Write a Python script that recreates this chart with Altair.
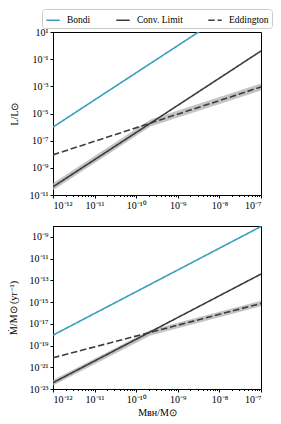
import altair as alt
import pandas as pd

# ---- data ----
series = ["Bondi", "Conv. Limit", "Eddington"]
colors = ["#3a9fbf", "#3c3c3c", "#3c3c3c"]
dashes = [[1, 0], [1, 0], [6.5, 2.8]]

mass = [1e-12, 1e-7]
mass_band = [1e-12, 2.2e-10, 1e-7]

# top panel: luminosity
L_bondi = [1e-6, 1e4]
L_conv = [4e-11, 4e-1]
L_edd = [9e-9, 9e-4]
L_band_lo = [2.2e-11, 1.1e-6, 5.0e-4]
L_band_hi = [7.2e-11, 3.6e-6, 1.6e-3]

# bottom panel: accretion rate
M_bondi = [9e-19, 9e-9]
M_conv = [3.8e-23, 3.8e-13]
M_edd = [7.5e-21, 7.5e-16]
M_band_lo = [2.1e-23, 0.85e-18, 4.2e-16]
M_band_hi = [6.8e-23, 2.7e-18, 1.35e-15]

x_exps = [-12, -11, -10, -9, -8, -7]
x_minor = [m * 10.0 ** e for e in range(-12, -7) for m in range(2, 10)]
yL_exps = [-11, -9, -7, -5, -3, -1, 1]
yM_exps = [-23, -21, -19, -17, -15, -13, -11, -9]

SUP = str.maketrans("-0123456789", "⁻⁰¹²³⁴⁵⁶⁷⁸⁹")
FONT = "Liberation Serif"


def lab(e):
    return "10" + str(e).translate(SUP)


def label_expr(exps):
    lo = min(exps)
    arr = ["" for _ in range(max(exps) - lo + 1)]
    for e in exps:
        arr[e - lo] = lab(e)
    items = ",".join("'" + s + "'" for s in arr)
    return f"[{items}][round(log(datum.value)/LN10)-({lo})]"


def lines_df(vals):
    rows = []
    for s, v in zip(series, vals):
        for m, y in zip(mass, v):
            rows.append({"series": s, "mass": m, "val": y})
    return pd.DataFrame(rows)


def band_df(lo, hi):
    return pd.DataFrame({"mass": mass_band, "lo": lo, "hi": hi})


def panel(ldf, bdf, exps, ydom, ytitle, xtitle, show_legend):
    xscale = alt.Scale(type="log", domain=[1e-12, 1e-7], nice=False)
    yscale = alt.Scale(type="log", domain=ydom, nice=False)
    xaxis = alt.Axis(values=[10.0 ** e for e in x_exps], labelExpr=label_expr(x_exps),
                     title=xtitle, grid=False, tickSize=3, orient="bottom")
    yaxis = alt.Axis(values=[10.0 ** e for e in exps], labelExpr=label_expr(exps),
                     title=ytitle, grid=False, tickSize=3, titlePadding=10)
    band = alt.Chart(bdf).mark_area(color="#b0b0b0", opacity=0.75, clip=True).encode(
        x=alt.X("mass:Q", scale=xscale, axis=xaxis),
        y=alt.Y("lo:Q", scale=yscale, axis=yaxis),
        y2="hi:Q",
    )
    if show_legend:
        leg = alt.Legend(title=None, orient="none", legendX=-11, legendY=-23,
                         direction="horizontal", symbolType="stroke", symbolSize=180,
                         symbolStrokeWidth=1.6, labelFont=FONT, labelFontSize=9.5,
                         labelColor="black", columnPadding=22, padding=3,
                         strokeColor="#cccccc", cornerRadius=3, fillColor="white",
                         labelOffset=6, labelLimit=200)
    else:
        leg = None
    lines = alt.Chart(ldf).mark_line(clip=True, strokeWidth=1.6).encode(
        x=alt.X("mass:Q", scale=xscale, axis=None),
        y=alt.Y("val:Q", scale=yscale),
        color=alt.Color("series:N", scale=alt.Scale(domain=series, range=colors), legend=leg),
        strokeDash=alt.StrokeDash("series:N", scale=alt.Scale(domain=series, range=dashes), legend=leg),
    )
    minor = alt.Chart(pd.DataFrame({"mass": [1e-12]})).mark_point(opacity=0).encode(
        x=alt.X("mass:Q", scale=xscale,
                axis=alt.Axis(values=x_minor, labels=False, domain=False, tickSize=1.5,
                              grid=False, title=None, orient="bottom")),
    )
    return alt.layer(band, lines, minor).resolve_axis(x="independent").properties(width=208, height=163)


top = panel(lines_df([L_bondi, L_conv, L_edd]), band_df(L_band_lo, L_band_hi),
            yL_exps, [1e-11, 10], "L/L⊙", None, True)
bottom = panel(lines_df([M_bondi, M_conv, M_edd]), band_df(M_band_lo, M_band_hi),
               yM_exps, [1e-23, 1e-8], "Ṁ/M⊙ (yr⁻¹)", "Mʙʜ/M⊙", False)

chart = alt.vconcat(top, bottom, spacing=14).resolve_legend(
    color="independent", strokeDash="independent"
).configure(padding=0).configure_view(
    stroke="black", strokeWidth=1
).configure_axis(
    labelFont=FONT, titleFont=FONT, labelFontSize=10, titleFontSize=10,
    titleFontWeight="normal", labelColor="black", titleColor="black",
    domainColor="black", tickColor="black", labelPadding=2, titlePadding=3,
)

chart.save("out.html", embed_options={"renderer": "svg", "actions": False})
